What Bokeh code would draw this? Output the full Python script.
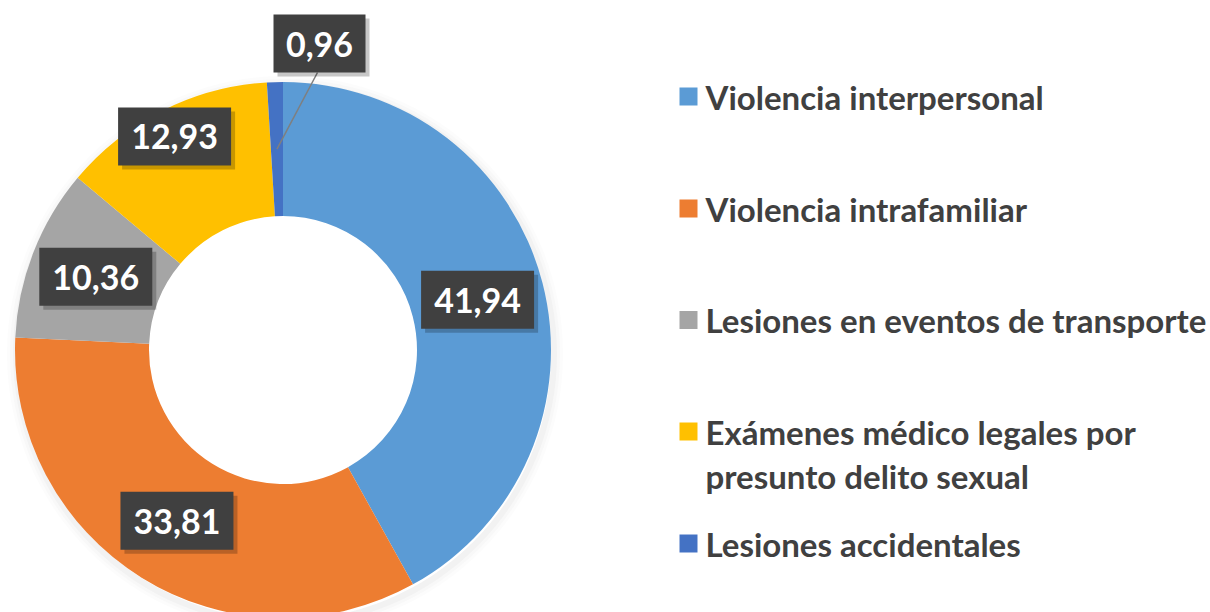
import numpy as np
from bokeh.plotting import figure
from bokeh.models import ColumnDataSource
from bokeh.core.properties import value
from bokeh.embed import file_html
from bokeh.resources import INLINE

# ---- data ----
categories = ["Violencia interpersonal", "Violencia intrafamiliar",
              "Lesiones en eventos de transporte",
              "Exámenes médico legales por presunto delito sexual",
              "Lesiones accidentales"]
values = [41.94, 33.81, 10.36, 12.93, 0.96]
value_labels = ["41,94", "33,81", "10,36", "12,93", "0,96"]
legend_lines = [["Violencia interpersonal"], ["Violencia intrafamiliar"],
                ["Lesiones en eventos de transporte"],
                ["Exámenes médico legales por", "presunto delito sexual"],
                ["Lesiones accidentales"]]
colors = ["#5B9BD5", "#ED7D31", "#A5A5A5", "#FFC000", "#4472C4"]

W, H = 1210, 612
def Y(py):
    return H - py

CX, CY = 282.5, Y(349.5)
R_OUT, R_IN = 268, 134
R_MID = (R_OUT + R_IN) / 2

vals = np.array(values, dtype=float)
frac = vals / vals.sum()
cum = np.concatenate([[0], np.cumsum(frac)])
theta1 = cum[:-1] * 2 * np.pi   # clockwise from top
theta2 = cum[1:] * 2 * np.pi
start = np.pi / 2 - theta2
end = np.pi / 2 - theta1
mid = (theta1 + theta2) / 2

p = figure(width=W, height=H, x_range=(0, W), y_range=(0, H),
           output_backend="svg", toolbar_location=None,
           x_axis_location=None, y_axis_location=None, min_border=0)
p.grid.visible = False
p.outline_line_color = None
p.background_fill_color = "white"

# soft shadow around donut
for k, a in [(10, 0.025), (7, 0.035), (4, 0.05)]:
    p.annulus(x=CX + 2, y=CY - 4, inner_radius=R_OUT - 2, outer_radius=R_OUT + k,
              fill_color="#808080", fill_alpha=a, line_color=None)

src = ColumnDataSource(dict(start=start, end=end, color=colors))
p.annular_wedge(x=CX, y=CY, inner_radius=R_IN, outer_radius=R_OUT,
                start_angle="start", end_angle="end", color="color",
                line_color=None, source=src)

# label positions: centre of ring at mid-angle, with adjustments for crowded slices
lx = CX + R_MID * np.sin(mid)
ly = CY + R_MID * np.cos(mid)
anchor_x, anchor_y = lx.copy(), ly.copy()
lx[3] += -18; ly[3] += 34
lx[4] = 319; ly[4] = Y(43)

# leader line for the smallest slice
p.segment(x0=[lx[4] - 2], y0=[ly[4] - 29], x1=[anchor_x[4]], y1=[anchor_y[4]],
          line_color="#7F7F7F", line_width=1.5)

box_w = [113 if len(s) > 4 else 92 for s in value_labels]
box_h = 58
p.rect(x=lx + 4, y=ly - 4, width=box_w, height=box_h, width_units="screen",
       height_units="screen", fill_color="#000000", fill_alpha=0.22, line_color=None)
p.rect(x=lx, y=ly, width=box_w, height=box_h, width_units="screen",
       height_units="screen", fill_color="#404040", line_color=None)
p.text(x=lx, y=ly - 0.5, text=value_labels, text_color="white",
       text_font=value("Lato"), text_font_style="bold", text_font_size="34px",
       text_align="center", text_baseline="alphabetic")

# legend
sq_x = 688
row_centers = [96, 208, 319.5, 431, 543]
line_gap = 44
for i, lines in enumerate(legend_lines):
    cyp = row_centers[i]
    p.rect(x=[sq_x], y=[Y(cyp)], width=18, height=18, width_units="screen",
           height_units="screen", fill_color=colors[i], line_color=None)
    for j, t in enumerate(lines):
        p.text(x=[705], y=[Y(cyp + 0 + j * line_gap)], text=[t],
               text_color="#404040", text_font=value("Lato"),
               text_font_style="bold", text_font_size="33px",
               text_align="left", text_baseline="alphabetic")

open("out.html", "w").write(file_html(p, INLINE))
